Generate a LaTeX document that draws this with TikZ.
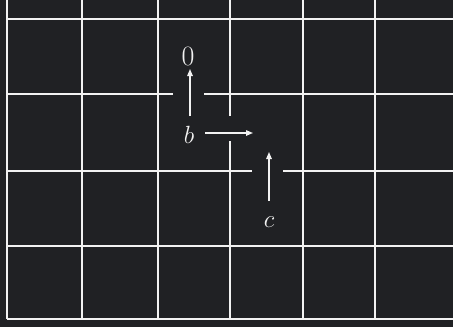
\documentclass[tikz,border=0pt]{standalone}
\usetikzlibrary{arrows.meta}
\definecolor{bg}{HTML}{202124}
\definecolor{ln}{HTML}{F2F2F2}
\begin{document}
\begin{tikzpicture}[x=1pt,y=-1pt,
  gridline/.style={ln,line width=2pt},
  arr/.style={ln,line width=1.4pt,-{Triangle[length=7pt,width=5.5pt]}},
  lbl/.style={text=ln,inner sep=0pt,anchor=base,font=\fontsize{28}{30}\selectfont}]
\fill[bg] (0,0) rectangle (453,327);
\useasboundingbox (0,0) rectangle (453,327);
% horizontal lines
\draw[gridline] (7,19) -- (453,19);
\draw[gridline] (7,94) -- (173,94);
\draw[gridline] (204,94) -- (453,94);
\draw[gridline] (7,171) -- (252,171);
\draw[gridline] (283,171) -- (453,171);
\draw[gridline] (7,246) -- (453,246);
\draw[gridline] (7,319) -- (453,319);
% vertical lines
\draw[gridline] (7,0) -- (7,319);
\draw[gridline] (82,0) -- (82,319);
\draw[gridline] (158,0) -- (158,319);
\draw[gridline] (230,0) -- (230,116);
\draw[gridline] (230,141) -- (230,319);
\draw[gridline] (303,0) -- (303,319);
\draw[gridline] (375,0) -- (375,319);
% labels
\node[lbl] (zero) at (188,65) {0};
\node[lbl] (b) at (189,143) {$b$};
\node[lbl] (c) at (269,227) {$c$};
% arrow endpoints
\coordinate (bup0) at (190,116);
\coordinate (bup1) at (190,69);
\coordinate (br0) at (205,133);
\coordinate (br1) at (253,133);
\coordinate (cup0) at (269,201);
\coordinate (cup1) at (269,152);
\draw[arr] (bup0) -- (bup1);
\draw[arr] (br0) -- (br1);
\draw[arr] (cup0) -- (cup1);
\end{tikzpicture}
\end{document}
